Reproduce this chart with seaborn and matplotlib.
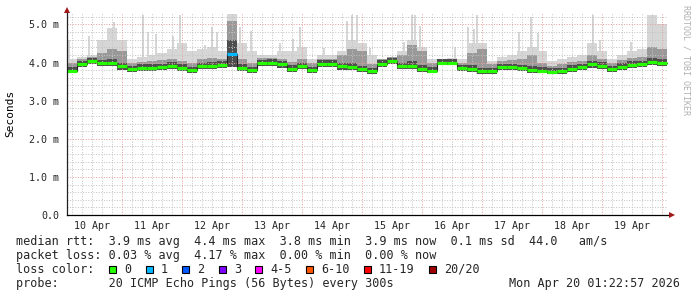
import numpy as np
import matplotlib
matplotlib.use("Agg")
import matplotlib.pyplot as plt
from matplotlib.patches import Rectangle
import seaborn as sns

# ---------------- data (4-hour bins starting Apr 10 02:00) ----------------
bin_start_hour = 2.0
bin_hours = 4.0

median = [3.79, 3.96, 4.03, 3.98, 3.99, 3.90, 3.82, 3.86, 3.87, 3.88,
          3.92, 3.85, 3.80, 3.90, 3.92, 3.93, 4.22, 3.86, 3.80, 3.98,
          4.00, 3.95, 3.84, 3.90, 3.80, 3.97, 3.97, 3.90, 3.88, 3.82,
          3.78, 3.97, 4.04, 3.90, 3.92, 3.84, 3.79, 4.00, 4.00, 3.85,
          3.82, 3.77, 3.78, 3.88, 3.88, 3.85, 3.80, 3.79, 3.76, 3.77,
          3.84, 3.88, 3.95, 3.92, 3.83, 3.89, 3.94, 3.96, 4.02, 3.98]

rtt_low = [3.72, 3.88, 3.95, 3.90, 3.91, 3.80, 3.74, 3.78, 3.79, 3.80,
           3.84, 3.77, 3.73, 3.82, 3.84, 3.85, 3.88, 3.78, 3.73, 3.90,
           3.92, 3.86, 3.76, 3.82, 3.73, 3.89, 3.89, 3.81, 3.80, 3.74,
           3.71, 3.89, 3.95, 3.82, 3.84, 3.76, 3.72, 3.93, 3.93, 3.77,
           3.74, 3.70, 3.71, 3.80, 3.80, 3.77, 3.73, 3.72, 3.70, 3.70,
           3.76, 3.80, 3.87, 3.84, 3.75, 3.81, 3.86, 3.88, 3.94, 3.90]

rtt_dark = [3.88, 4.05, 4.12, 4.07, 4.08, 4.00, 3.91, 3.95, 3.96, 3.97,
            4.01, 3.95, 3.89, 3.99, 4.01, 4.03, 4.60, 3.95, 3.89, 4.07,
            4.09, 4.04, 3.93, 3.99, 3.89, 4.06, 4.06, 4.00, 3.98, 3.92,
            3.87, 4.06, 4.13, 4.00, 4.03, 3.94, 3.88, 4.08, 4.08, 3.94,
            3.93, 3.87, 3.87, 3.97, 3.97, 3.94, 3.90, 3.88, 3.85, 3.86,
            3.93, 3.97, 4.05, 4.01, 3.92, 3.98, 4.03, 4.05, 4.13, 4.08]

rtt_mid = [3.98, 4.10, 4.15, 4.25, 4.35, 4.30, 3.98, 4.02, 4.05, 4.06,
           4.10, 4.05, 4.00, 4.08, 4.12, 4.10, 5.10, 4.10, 4.00, 4.12,
           4.12, 4.10, 4.02, 4.10, 3.98, 4.10, 4.10, 4.20, 4.35, 4.30,
           3.95, 4.08, 4.15, 4.20, 4.45, 4.30, 3.98, 4.10, 4.10, 4.00,
           4.25, 4.35, 3.95, 4.05, 4.06, 4.10, 4.20, 4.00, 3.92, 3.95,
           4.02, 4.05, 4.20, 4.10, 4.00, 4.06, 4.12, 4.15, 4.40, 4.35]

rtt_light = [4.10, 4.15, 4.20, 4.60, 4.90, 4.60, 4.10, 4.15, 4.20, 4.25,
             4.35, 4.50, 4.30, 4.35, 4.40, 4.30, 5.28, 4.50, 4.30, 4.20,
             4.20, 4.30, 4.30, 4.40, 4.10, 4.20, 4.20, 4.30, 4.60, 4.50,
             4.20, 4.10, 4.15, 4.30, 4.60, 4.40, 4.10, 4.10, 4.12, 4.10,
             4.50, 4.50, 4.05, 4.15, 4.20, 4.30, 4.40, 4.30, 4.05, 4.10,
             4.15, 4.20, 4.50, 4.30, 4.10, 4.20, 4.30, 4.35, 5.24, 5.00]

loss = [0] * 16 + [1] + [0] * 43

spike_hour = [2.8, 10.8, 20.8, 32.4, 34.4, 37.6, 44.4, 47.2, 57.2, 60.0,
              62.0, 71.2, 75.6, 87.2, 92.4, 95.2, 104.8, 114.0, 116.0, 118.0,
              123.2, 136.8, 140.0, 141.2, 143.2, 157.2, 162.4, 164.8, 166.0, 182.8,
              187.6, 190.4, 212.4, 215.2, 227.6]
spike_top = [4.58, 4.69, 5.06, 5.24, 4.80, 4.75, 4.70, 5.24, 4.45, 4.93,
             4.80, 4.93, 4.83, 4.50, 4.63, 4.93, 4.37, 5.10, 5.24, 5.24,
             4.37, 4.54, 5.24, 5.24, 4.97, 4.40, 4.93, 4.89, 5.24, 4.80,
             5.19, 4.77, 5.24, 4.58, 4.54]

day_labels = ["10 Apr", "11 Apr", "12 Apr", "13 Apr", "14 Apr",
              "15 Apr", "16 Apr", "17 Apr", "18 Apr", "19 Apr"]
y_tick_values = [0, 1, 2, 3, 4, 5]
y_tick_labels = ["0.0", "1.0 m", "2.0 m", "3.0 m", "4.0 m", "5.0 m"]

loss_labels = ["0", "1", "2", "3", "4-5", "6-10", "11-19", "20/20"]
loss_colors = ["#26ff00", "#00b8ff", "#0059ff", "#7e00ff",
               "#ff00ff", "#ff5500", "#ff0000", "#a00000"]

stats_line1 = "median rtt:  3.9 ms avg  4.4 ms max  3.8 ms min  3.9 ms now  0.1 ms sd  44.0   am/s"
stats_line2 = "packet loss: 0.03 % avg  4.17 % max  0.00 % min  0.00 % now"
probe_line = "probe:       20 ICMP Echo Pings (56 Bytes) every 300s"
timestamp = "Mon Apr 20 01:22:57 2026"

# ---------------- figure ----------------
sns.set_style("white")
plt.rcParams['font.family'] = ['DejaVu Sans Mono', 'DejaVu Sans']

W, H = 697, 297
fig = plt.figure(figsize=(W / 100, H / 100), dpi=100)
fig.patch.set_facecolor("white")
ax = fig.add_axes([67 / W, (H - 215) / H, (668 - 67) / W, (215 - 13) / H])

n = len(median)
edges = bin_start_hour + bin_hours * np.arange(n + 1)
starts = edges[:-1]
ends = edges[1:]

def ext(a):
    a = list(a)
    return np.array(a + [a[-1]])

# smoke layers
ax.fill_between(edges, ext(rtt_low), ext(rtt_light), step="post",
                color="#d6d6d6", lw=0, zorder=1)
idx = ((np.array(spike_hour) - bin_start_hour) // bin_hours).astype(int)
base = np.array(rtt_low)[idx]
ax.bar(spike_hour, np.array(spike_top) - base, bottom=base, width=1.0,
       color="#d6d6d6", lw=0, zorder=1)
ax.fill_between(edges, ext(rtt_low), ext(rtt_mid), step="post",
                color="#999999", lw=0, zorder=2)
ax.fill_between(edges, ext(rtt_low), ext(rtt_dark), step="post",
                color="#4d4d4d", lw=0, zorder=3)

# grid (drawn over the smoke like rrdtool)
minor_col = "#c4c4c4"
major_col = "#e8a0a0"
dot = (0, (1, 1.6))
for yv in np.arange(0.2, 5.3, 0.2):
    if abs(yv - round(yv)) < 1e-6:
        continue
    ax.axhline(yv, color=minor_col, lw=0.72, ls=dot, zorder=4)
for yv in range(1, 6):
    ax.axhline(yv, color=major_col, lw=0.72, ls=dot, zorder=4)
for xv in np.arange(4, 243, 4):
    if xv % 24 == 0:
        ax.axvline(xv, color=major_col, lw=0.72, ls=dot, zorder=4)
    else:
        ax.axvline(xv, color=minor_col, lw=0.72, ls=dot, zorder=4)

# median: dark risers + coloured segments by loss
sns.lineplot(x=edges, y=ext(median), drawstyle="steps-post", color="#202020",
             lw=0.8, ax=ax, zorder=5)
seg_colors = [loss_colors[l] for l in loss]
ax.hlines(median, starts, ends, colors=seg_colors, lw=2.3, zorder=6)

ax.set_xlim(2.0, 242.4)
ax.set_ylim(0, 5.3)

# axes styling
for s in ["top", "right"]:
    ax.spines[s].set_visible(False)
ax.spines["left"].set_color("#202020")
ax.spines["bottom"].set_color("#000000")
ax.spines["left"].set_linewidth(0.9)
ax.spines["bottom"].set_linewidth(0.9)
ax.spines["left"].set_zorder(7)
ax.spines["bottom"].set_zorder(7)

ax.set_yticks(y_tick_values)
ax.set_yticklabels(y_tick_labels, fontsize=7.2)
ax.tick_params(axis="y", direction="out", length=3.6, width=0.72,
               color="#202020", pad=2)
ax.set_xticks(12 + 24 * np.arange(len(day_labels)))
ax.set_xticklabels(day_labels, fontsize=7.2)
ax.tick_params(axis="x", length=0, pad=4)
ax.set_xticks(24 * np.arange(1, 11), minor=True)
ax.tick_params(axis="x", which="minor", length=2.5, width=0.72,
               color=major_col, direction="out")
ax.set_xlabel("")
ax.set_ylabel("")

# arrows
arrow_col = "#a01818"
ax.plot(1.006, 0, marker=">", ms=4, color=arrow_col, transform=ax.transAxes,
        clip_on=False, zorder=8, mew=0)
ax.plot(0, 1.013, marker="^", ms=4, color=arrow_col, transform=ax.transAxes,
        clip_on=False, zorder=8, mew=0)

# labels
fig.text(10 / W, 1 - 113 / H, "Seconds", rotation=90, ha="center",
         va="center", fontsize=8, color="#000000")
fig.text(686 / W, 1 - 60 / H, "RRDTOOL / TOBI OETIKER", rotation=270,
         ha="center", va="center", fontsize=6, color="#b0b0b0")

txt_size = 8.5
def ytxt(y):
    return 1 - y / H

fig.text(16 / W, ytxt(241.5), stats_line1, fontsize=txt_size, va="center")
fig.text(16 / W, ytxt(255.2), stats_line2, fontsize=txt_size, va="center")
fig.text(16 / W, ytxt(269.3), "loss color:", fontsize=txt_size, va="center")
fig.text(16 / W, ytxt(283.3), probe_line, fontsize=txt_size, va="center")
fig.text(680 / W, ytxt(283.3), timestamp, fontsize=txt_size, va="center",
         ha="right")

char_w = 7.1
col = 13.1
for lab, c in zip(loss_labels, loss_colors):
    bx = 16 + col * char_w
    fig.add_artist(Rectangle((bx / W, ytxt(273.0)), 7 / W, 7 / H,
                             transform=fig.transFigure, facecolor=c,
                             edgecolor="black", lw=0.8))
    fig.text((bx + 15) / W, ytxt(269.3), lab, fontsize=txt_size, va="center")
    col += len(lab) + 4.15

fig.savefig("out.png", dpi=100, facecolor="white")
